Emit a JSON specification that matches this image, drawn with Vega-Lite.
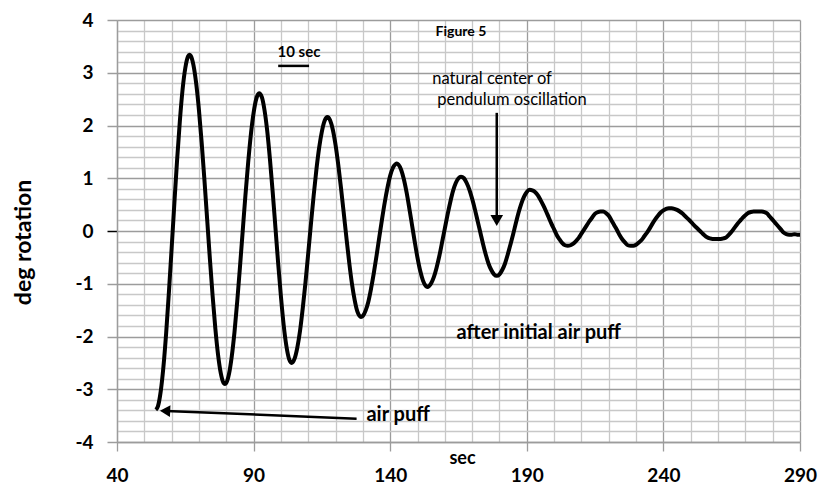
{
  "$schema": "https://vega.github.io/schema/vega-lite/v6.json",
  "width": 683,
  "height": 422,
  "autosize": {"type": "none"},
  "padding": {"left": 117, "top": 20, "right": 20, "bottom": 46},
  "background": "white",
  "config": {"view": {"stroke": null}, "font": "Lato"},
  "layer": [
    {
      "data": {"values": [
        {"t":54.2,"d":-3.39},{"t":55,"d":-3.32},{"t":56,"d":-3.04},{"t":57,"d":-2.57},{"t":58,"d":-1.93},{"t":59,"d":-1.16},{"t":60,"d":-0.33},{"t":61,"d":0.53},{"t":62,"d":1.35},{"t":63,"d":2.08},{"t":64,"d":2.68},{"t":65,"d":3.09},{"t":66,"d":3.31},{"t":66.5,"d":3.34},
        {"t":67,"d":3.32},{"t":68,"d":3.14},{"t":69,"d":2.79},{"t":70,"d":2.29},{"t":71,"d":1.67},{"t":72,"d":0.97},{"t":73,"d":0.22},{"t":74,"d":-0.53},{"t":75,"d":-1.23},{"t":76,"d":-1.85},{"t":77,"d":-2.35},{"t":78,"d":-2.7},{"t":79,"d":-2.88},{"t":79.5,"d":-2.9},
        {"t":80,"d":-2.88},{"t":81,"d":-2.71},{"t":82,"d":-2.38},{"t":83,"d":-1.92},{"t":84,"d":-1.34},{"t":85,"d":-0.69},{"t":86,"d":-0.01},{"t":87,"d":0.67},{"t":88,"d":1.29},{"t":89,"d":1.83},{"t":90,"d":2.24},{"t":91,"d":2.51},{"t":92,"d":2.61},
        {"t":93,"d":2.54},{"t":94,"d":2.29},{"t":95,"d":1.89},{"t":96,"d":1.35},{"t":97,"d":0.73},{"t":98,"d":0.06},{"t":99,"d":-0.62},{"t":100,"d":-1.24},{"t":101,"d":-1.78},{"t":102,"d":-2.18},{"t":103,"d":-2.43},{"t":103.9,"d":-2.5},
        {"t":105,"d":-2.42},{"t":106,"d":-2.21},{"t":107,"d":-1.89},{"t":108,"d":-1.46},{"t":109,"d":-0.97},{"t":110,"d":-0.42},{"t":111,"d":0.14},{"t":112,"d":0.68},{"t":113,"d":1.17},{"t":114,"d":1.58},{"t":115,"d":1.89},{"t":116,"d":2.09},{"t":117,"d":2.16},
        {"t":118,"d":2.1},{"t":119,"d":1.92},{"t":120,"d":1.63},{"t":121,"d":1.25},{"t":122,"d":0.81},{"t":123,"d":0.34},{"t":124,"d":-0.14},{"t":125,"d":-0.6},{"t":126,"d":-1.0},{"t":127,"d":-1.31},{"t":128,"d":-1.53},{"t":129.3,"d":-1.63},
        {"t":130,"d":-1.61},{"t":131,"d":-1.51},{"t":132,"d":-1.34},{"t":133,"d":-1.09},{"t":134,"d":-0.8},{"t":135,"d":-0.47},{"t":136,"d":-0.12},{"t":137,"d":0.22},{"t":138,"d":0.54},{"t":139,"d":0.82},{"t":140,"d":1.05},{"t":141,"d":1.2},{"t":142,"d":1.27},{"t":142.4,"d":1.28},
        {"t":143,"d":1.26},{"t":144,"d":1.16},{"t":145,"d":0.98},{"t":146,"d":0.73},{"t":147,"d":0.43},{"t":148,"d":0.11},{"t":149,"d":-0.21},{"t":150,"d":-0.51},{"t":151,"d":-0.76},{"t":152,"d":-0.94},{"t":153,"d":-1.04},{"t":153.6,"d":-1.06},
        {"t":155,"d":-0.99},{"t":156,"d":-0.87},{"t":157,"d":-0.69},{"t":158,"d":-0.47},{"t":159,"d":-0.21},{"t":160,"d":0.05},{"t":161,"d":0.31},{"t":162,"d":0.55},{"t":163,"d":0.76},{"t":164,"d":0.91},{"t":165,"d":1.0},{"t":165.9,"d":1.03},
        {"t":167,"d":1.0},{"t":168,"d":0.91},{"t":169,"d":0.78},{"t":170,"d":0.61},{"t":171,"d":0.41},{"t":172,"d":0.19},{"t":173,"d":-0.03},{"t":174,"d":-0.25},{"t":175,"d":-0.45},{"t":176,"d":-0.62},{"t":177,"d":-0.74},{"t":178,"d":-0.82},{"t":179,"d":-0.85},
        {"t":180,"d":-0.82},{"t":181,"d":-0.74},{"t":182,"d":-0.62},{"t":183,"d":-0.45},{"t":184,"d":-0.26},{"t":185,"d":-0.06},{"t":186,"d":0.15},{"t":187,"d":0.35},{"t":188,"d":0.52},{"t":189,"d":0.65},{"t":190,"d":0.74},{"t":191,"d":0.78},
        {"t":192,"d":0.77},{"t":193,"d":0.74},{"t":194,"d":0.68},{"t":195,"d":0.59},{"t":196,"d":0.49},{"t":197,"d":0.38},{"t":198,"d":0.26},{"t":199,"d":0.14},{"t":200,"d":0.03},{"t":201,"d":-0.08},{"t":202,"d":-0.16},{"t":203,"d":-0.23},{"t":204,"d":-0.27},{"t":205,"d":-0.28},
        {"t":206,"d":-0.27},{"t":207,"d":-0.24},{"t":208,"d":-0.19},{"t":209,"d":-0.13},{"t":210,"d":-0.05},{"t":211,"d":0.03},{"t":212,"d":0.11},{"t":213,"d":0.19},{"t":214,"d":0.26},{"t":215,"d":0.33},{"t":216,"d":0.36},{"t":217,"d":0.37},{"t":218,"d":0.37},{"t":219,"d":0.34},
        {"t":220,"d":0.29},{"t":221,"d":0.2},{"t":222,"d":0.11},{"t":223,"d":0.02},{"t":224,"d":-0.08},{"t":225,"d":-0.16},{"t":226,"d":-0.22},{"t":227,"d":-0.27},{"t":228,"d":-0.28},{"t":229,"d":-0.28},
        {"t":230,"d":-0.26},{"t":231,"d":-0.22},{"t":232,"d":-0.17},{"t":233,"d":-0.1},{"t":234,"d":-0.03},{"t":235,"d":0.05},{"t":236,"d":0.14},{"t":237,"d":0.22},{"t":238,"d":0.29},{"t":239,"d":0.35},{"t":240,"d":0.39},{"t":241,"d":0.42},{"t":242,"d":0.43},{"t":243,"d":0.43},{"t":244,"d":0.42},
        {"t":245,"d":0.4},{"t":246,"d":0.37},{"t":247,"d":0.33},{"t":248,"d":0.28},{"t":249,"d":0.23},{"t":250,"d":0.18},{"t":251,"d":0.12},{"t":252,"d":0.07},{"t":253,"d":0.02},{"t":254,"d":-0.03},{"t":255,"d":-0.08},{"t":256,"d":-0.12},{"t":257,"d":-0.14},{"t":258,"d":-0.15},{"t":259,"d":-0.15},
        {"t":260,"d":-0.15},{"t":261,"d":-0.15},{"t":262,"d":-0.14},{"t":263,"d":-0.12},{"t":264,"d":-0.07},{"t":265,"d":-0.01},{"t":266,"d":0.06},{"t":267,"d":0.13},{"t":268,"d":0.19},{"t":269,"d":0.25},{"t":270,"d":0.3},{"t":271,"d":0.34},{"t":272,"d":0.36},{"t":273,"d":0.37},{"t":274,"d":0.37},
        {"t":275,"d":0.37},{"t":276,"d":0.37},{"t":277,"d":0.36},{"t":278,"d":0.33},{"t":279,"d":0.27},{"t":280,"d":0.21},{"t":281,"d":0.15},{"t":282,"d":0.09},{"t":283,"d":0.03},{"t":284,"d":-0.03},{"t":285,"d":-0.06},{"t":286,"d":-0.07},{"t":287,"d":-0.07},{"t":288,"d":-0.06},{"t":289,"d":-0.07},{"t":290,"d":-0.07}
      ]},
      "mark": {"type": "line", "color": "black", "strokeWidth": 4, "interpolate": "monotone", "clip": false},
      "encoding": {
        "x": {
          "field": "t", "type": "quantitative",
          "scale": {"domain": [40, 290], "nice": false, "zero": false},
          "axis": {
            "values": [40,50,60,70,80,90,100,110,120,130,140,150,160,170,180,190,200,210,220,230,240,250,260,270,280,290],
            "tickCount": 100,
            "grid": true,
            "gridColor": {"condition": {"test": "(datum.value - 40) % 50 === 0", "value": "#9c9c9c"}, "value": "#c8c8c8"},
            "gridWidth": 1.3,
            "domainColor": "#9c9c9c", "domainWidth": 1.3,
            "tickColor": "#9c9c9c", "tickWidth": 1.3,
            "tickOpacity": {"condition": {"test": "(datum.value - 40) % 50 === 0", "value": 1}, "value": 0},
            "tickSize": 9,
            "labelExpr": "(datum.value - 40) % 50 === 0 ? datum.label : ''",
            "labelOverlap": false, "labelFlush": false, "labelBound": false,
            "labelFontSize": 19, "labelFontWeight": "bold", "labelColor": "black", "labelPadding": 15,
            "title": "sec", "titleFontSize": 18, "titleFontWeight": "bold", "titleColor": "black",
            "titleX": 345, "titleY": 16, "titleBaseline": "middle", "titleAlign": "center"
          }
        },
        "y": {
          "field": "d", "type": "quantitative",
          "scale": {"domain": [-4, 4], "nice": false, "zero": false},
          "axis": {
            "values": [-4,-3.8,-3.6,-3.4,-3.2,-3,-2.8,-2.6,-2.4,-2.2,-2,-1.8,-1.6,-1.4,-1.2,-1,-0.8,-0.6,-0.4,-0.2,0,0.2,0.4,0.6,0.8,1,1.2,1.4,1.6,1.8,2,2.2,2.4,2.6,2.8,3,3.2,3.4,3.6,3.8,4],
            "tickCount": 100,
            "grid": true,
            "gridColor": {"condition": {"test": "abs(datum.value - round(datum.value)) < 0.001", "value": "#9c9c9c"}, "value": "#c8c8c8"},
            "gridWidth": 1.3,
            "domainColor": "#9c9c9c", "domainWidth": 1.3,
            "tickColor": {"condition": {"test": "abs(datum.value) < 0.001", "value": "black"}, "value": "#9c9c9c"},
            "tickWidth": 1.5,
            "tickOpacity": {"condition": {"test": "abs(datum.value - round(datum.value)) < 0.001", "value": 1}, "value": 0},
            "tickSize": 10,
            "labelExpr": "abs(datum.value - round(datum.value)) < 0.001 ? toString(round(datum.value)) : ''",
            "labelOverlap": false, "labelFlush": false, "labelBound": false,
            "labelFontSize": 19, "labelFontWeight": "bold", "labelColor": "black", "labelPadding": 14,
            "title": "deg rotation", "titleFontSize": 23, "titleFontWeight": "bold", "titleColor": "black",
            "titleX": -94, "titleY": 222, "titleAlign": "center", "titleBaseline": "middle", "titleAngle": -90
          }
        }
      }
    },
    {
      "mark": {"type": "rule", "color": "black", "strokeWidth": 2},
      "encoding": {"y": {"datum": 0, "type": "quantitative"}}
    },
    {
      "data": {"values": [
        {"t": 179, "d": 2.24, "t2": 179, "d2": 0.3},
        {"t": 58, "d": -3.41, "t2": 127.7, "d2": -3.56},
        {"t": 99, "d": 3.13, "t2": 110.3, "d2": 3.13}
      ]},
      "mark": {"type": "rule", "color": "black", "strokeWidth": 2.5},
      "encoding": {
        "x": {"field": "t", "type": "quantitative"},
        "y": {"field": "d", "type": "quantitative"},
        "x2": {"field": "t2"},
        "y2": {"field": "d2"}
      }
    },
    {
      "data": {"values": [{"t": 179, "d": 0.2}]},
      "mark": {"type": "point", "shape": "triangle-down", "filled": true, "color": "black", "size": 160, "opacity": 1},
      "encoding": {
        "x": {"field": "t", "type": "quantitative"},
        "y": {"field": "d", "type": "quantitative"}
      }
    },
    {
      "data": {"values": [{"t": 57.6, "d": -3.41}]},
      "mark": {"type": "point", "shape": "triangle-left", "filled": true, "color": "black", "size": 140, "opacity": 1, "angle": 2.6},
      "encoding": {
        "x": {"field": "t", "type": "quantitative"},
        "y": {"field": "d", "type": "quantitative"}
      }
    },
    {
      "data": {"values": [{"t": 106.6, "d": 3.39, "label": "10 sec"}]},
      "mark": {"type": "text", "font": "Lato", "fontSize": 15, "fontWeight": "bold", "align": "center", "baseline": "middle", "color": "black"},
      "encoding": {
        "x": {"field": "t", "type": "quantitative"},
        "y": {"field": "d", "type": "quantitative"},
        "text": {"field": "label"}
      }
    },
    {
      "data": {"values": [{"t": 165.9, "d": 3.77, "label": "Figure 5"}]},
      "mark": {"type": "text", "font": "Lato", "fontSize": 14, "fontWeight": "bold", "align": "center", "baseline": "middle", "color": "black"},
      "encoding": {
        "x": {"field": "t", "type": "quantitative"},
        "y": {"field": "d", "type": "quantitative"},
        "text": {"field": "label"}
      }
    },
    {
      "data": {"values": [
        {"t": 155.4, "d": 2.89, "label": "natural center of"},
        {"t": 157.2, "d": 2.48, "label": "pendulum oscillation"}
      ]},
      "mark": {"type": "text", "font": "Lato", "fontSize": 16.5, "align": "left", "baseline": "middle", "color": "black"},
      "encoding": {
        "x": {"field": "t", "type": "quantitative"},
        "y": {"field": "d", "type": "quantitative"},
        "text": {"field": "label"}
      }
    },
    {
      "data": {"values": [
        {"t": 164.3, "d": -1.94, "label": "after initial air puff"},
        {"t": 131.3, "d": -3.49, "label": "air puff"}
      ]},
      "mark": {"type": "text", "font": "Lato", "fontSize": 20, "fontWeight": "bold", "align": "left", "baseline": "middle", "color": "black"},
      "encoding": {
        "x": {"field": "t", "type": "quantitative"},
        "y": {"field": "d", "type": "quantitative"},
        "text": {"field": "label"}
      }
    }
  ]
}
